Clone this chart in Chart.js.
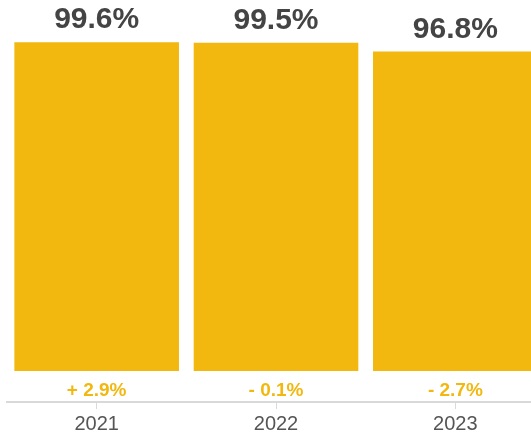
<!DOCTYPE html>
<html>
<head>
<meta charset="utf-8">
<script src="https://cdn.jsdelivr.net/npm/chart.js@4/dist/chart.umd.min.js"></script>
<style>
  html, body { margin: 0; padding: 0; background: #fff; overflow: hidden; }
  #wrap { width: 531px; height: 436px; overflow: hidden; }
</style>
</head>
<body>
<div id="wrap"><canvas id="rate-chart" width="545" height="436"></canvas></div>
<script>
const years = ['2021', '2022', '2023'];
const rates = [99.6, 99.5, 96.8];
const changes = [2.9, -0.1, -2.7];

const BAR_COLOR = '#F2B80F';
const FONT = "'Liberation Sans', Arial, Helvetica, sans-serif";

// percentage above each bar, yearly change just under it
const barLabels = {
    id: 'barLabels',
    afterDatasetsDraw(chart) {
        const ctx = chart.ctx;
        const meta = chart.getDatasetMeta(0);
        const zero = chart.scales.y.getPixelForValue(0);
        ctx.save();
        ctx.textAlign = 'center';
        meta.data.forEach((bar, i) => {
            ctx.fillStyle = '#444444';
            ctx.font = 'bold 30px ' + FONT;
            ctx.textBaseline = 'alphabetic';
            ctx.fillText(rates[i].toFixed(1) + '%', bar.x, bar.y - 14);

            const c = changes[i];
            const txt = (c >= 0 ? '+ ' : '- ') + Math.abs(c).toFixed(1) + '%';
            ctx.fillStyle = BAR_COLOR;
            ctx.font = 'bold 19px ' + FONT;
            ctx.textBaseline = 'middle';
            ctx.fillText(txt, bar.x, zero + 20);
        });
        ctx.restore();
    }
};

new Chart(document.getElementById('rate-chart'), {
    type: 'bar',
    data: {
        labels: years,
        datasets: [{
            data: rates,
            backgroundColor: BAR_COLOR,
            borderWidth: 0,
            barPercentage: 1,
            categoryPercentage: 0.918
        }]
    },
    options: {
        responsive: false,
        animation: false,
        layout: { padding: { top: 41, left: 7, right: 0, bottom: 0 } },
        plugins: {
            legend: { display: false },
            tooltip: { enabled: false }
        },
        scales: {
            y: {
                display: false,
                min: -9.39,
                max: 100
            },
            x: {
                afterFit(scale) { scale.height = 34; },
                border: { display: true, color: '#d9d9d9', width: 2 },
                grid: {
                    offset: false,
                    drawOnChartArea: false,
                    drawTicks: true,
                    tickLength: 7,
                    color: '#d9d9d9',
                    tickColor: '#d9d9d9'
                },
                ticks: {
                    padding: 3,
                    color: '#555555',
                    font: { family: FONT, size: 20 }
                }
            }
        }
    },
    plugins: [barLabels]
});
</script>
</body>
</html>
